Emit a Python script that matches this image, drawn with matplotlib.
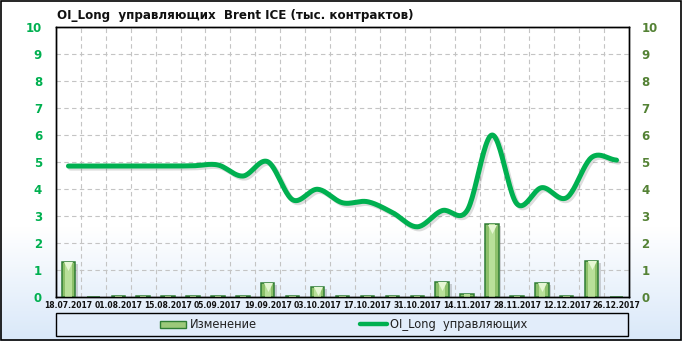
import numpy as np
import matplotlib
matplotlib.use("Agg")
import matplotlib.pyplot as plt
import matplotlib.patheffects as pe
from matplotlib.patches import Rectangle
from matplotlib.lines import Line2D
from matplotlib.colors import LinearSegmentedColormap

dates = ['18.07.2017', '25.07.2017', '01.08.2017', '08.08.2017', '15.08.2017', '22.08.2017',
         '05.09.2017', '12.09.2017', '19.09.2017', '26.09.2017', '03.10.2017', '10.10.2017',
         '17.10.2017', '24.10.2017', '31.10.2017', '07.11.2017', '14.11.2017', '21.11.2017',
         '28.11.2017', '05.12.2017', '12.12.2017', '19.12.2017', '26.12.2017']
oi_long = [4.85, 4.85, 4.85, 4.85, 4.85, 4.86, 4.89, 4.48, 5.01, 3.6, 3.99, 3.49, 3.53,
           3.13, 2.6, 3.2, 3.2, 6.0, 3.45, 4.05, 3.68, 5.17, 5.07]
change = [1.31, 0.0, 0.05, 0.05, 0.05, 0.05, 0.05, 0.05, 0.53, 0.05, 0.37, 0.05, 0.05,
          0.05, 0.05, 0.57, 0.11, 2.69, 0.05, 0.53, 0.05, 1.34, 0.0]
title = 'OI_Long  управляющих  Brent ICE (тыс. контрактов)'
bar_label = 'Изменение'
line_label = 'OI_Long  управляющих'


def catmull_rom(y, n=24):
    y = np.asarray(y, dtype=float)
    x = np.arange(len(y), dtype=float)
    P = np.concatenate([[y[0]], y, [y[-1]]])
    xs, ys = [], []
    t = np.linspace(0, 1, n, endpoint=False)
    for i in range(len(y) - 1):
        p0, p1, p2, p3 = P[i], P[i + 1], P[i + 2], P[i + 3]
        yy = 0.5 * (2 * p1 + (-p0 + p2) * t + (2 * p0 - 5 * p1 + 4 * p2 - p3) * t ** 2
                    + (-p0 + 3 * p1 - 3 * p2 + p3) * t ** 3)
        xs.append(x[i] + t)
        ys.append(yy)
    xs.append([x[-1]])
    ys.append([y[-1]])
    return np.concatenate(xs), np.concatenate(ys)


W, H = 682, 341
fig = plt.figure(figsize=(W / 100, H / 100), dpi=100)

# background gradient
bg = fig.add_axes([0, 0, 1, 1], zorder=-10)
cmap = LinearSegmentedColormap.from_list('bg', [(0, '#d9e8f9'), (0.33, '#ffffff'), (1, '#ffffff')])
grad = np.linspace(0, 1, 256).reshape(-1, 1)
bg.imshow(grad, aspect='auto', cmap=cmap, origin='lower', extent=[0, 1, 0, 1])
bg.set_axis_off()

ax = fig.add_axes([56 / W, 1 - 297 / H, 573 / W, 270 / H])
ax.patch.set_alpha(0)
n = len(dates)
x = np.arange(n)
ax.set_xlim(-0.5, n - 0.5)
ax.set_ylim(0, 10)

# grid
ax.set_yticks(np.arange(0, 11, 1))
ax.set_xticks(np.arange(0.5, n - 0.5, 1), minor=True)
ax.grid(True, which='major', axis='y', color='#c4c4c4', linestyle=(0, (4, 3)), linewidth=0.8)
ax.grid(True, which='minor', axis='x', color='#c4c4c4', linestyle=(0, (4, 3)), linewidth=0.8)
ax.set_axisbelow(True)

# bars
shadow = [pe.SimplePatchShadow(offset=(2, -1.5), shadow_rgbFace='#777777', alpha=0.3), pe.Normal()]
ax.bar(x, change, width=0.54, color='#8cc06a', edgecolor='#2f7d34', linewidth=1.1,
       zorder=3, path_effects=shadow)
ax.bar(x, change, width=0.26, color='#b9e09a', edgecolor='none', linewidth=0, zorder=4)
cv = np.array(change)
mask = cv > 0.2
ax.scatter(x[mask], cv[mask] - 0.16, marker='v', s=42, color='#e6f7d4', zorder=5, linewidths=0)

# line
xs, ys = catmull_rom(oi_long)
ax.plot(xs, ys, color='#00b050', linewidth=3.6, solid_capstyle='round', zorder=6,
        path_effects=[pe.SimpleLineShadow(offset=(1.5, -1.5), shadow_color='#555555', alpha=0.2),
                      pe.Normal()])

# x labels
ax.set_xticks(x[::2])
ax.set_xticklabels(dates[::2], fontsize=5.5, fontweight='bold', color='#111111')
ax.tick_params(axis='x', which='both', length=0, pad=3)
ax.tick_params(axis='y', which='both', length=0, pad=10)
ax.set_yticklabels([str(v) for v in range(11)], fontsize=8.5, fontweight='bold', color='#00b050')

ax2 = ax.twinx()
ax2.set_ylim(0, 10)
ax2.set_yticks(np.arange(0, 11, 1))
ax2.set_yticklabels([str(v) for v in range(11)], fontsize=8.5, fontweight='bold', color='#548235')
ax2.tick_params(axis='y', length=0, pad=9)
ax2.patch.set_alpha(0)
for a in (ax, ax2):
    for s in a.spines.values():
        s.set_color('black')
        s.set_linewidth(1.0)

fig.text(57 / W, 1 - 15 / H, title, fontsize=8.6, fontweight='bold', va='center', ha='left',
         color='#111111')

# legend (manual)
fig.patches.append(Rectangle((56 / W, 1 - 336 / H), 572 / W, 23.5 / H, transform=fig.transFigure,
                             facecolor='#e2edfa', edgecolor='black', linewidth=1.0))
fig.patches.append(Rectangle((160 / W, 1 - 328 / H), 26 / W, 7 / H, transform=fig.transFigure,
                             facecolor='#9cc97a', edgecolor='#2f7d34', linewidth=1.0))
fig.text(190 / W, 1 - 324.5 / H, bar_label, fontsize=8.3, va='center', ha='left', color='#222222')
fig.lines.append(Line2D([360 / W, 387 / W], [1 - 324 / H, 1 - 324 / H], transform=fig.transFigure,
                        color='#00b050', linewidth=3.2, solid_capstyle='round'))
fig.text(390 / W, 1 - 324.5 / H, line_label, fontsize=8.3, va='center', ha='left', color='#222222')

# outer border
fig.patches.append(Rectangle((0.5 / W, 1.5 / H), (W - 1.5) / W, (H - 2) / H, transform=fig.transFigure,
                             facecolor='none', edgecolor='black', linewidth=1.2))

fig.savefig('out.png', dpi=100)
